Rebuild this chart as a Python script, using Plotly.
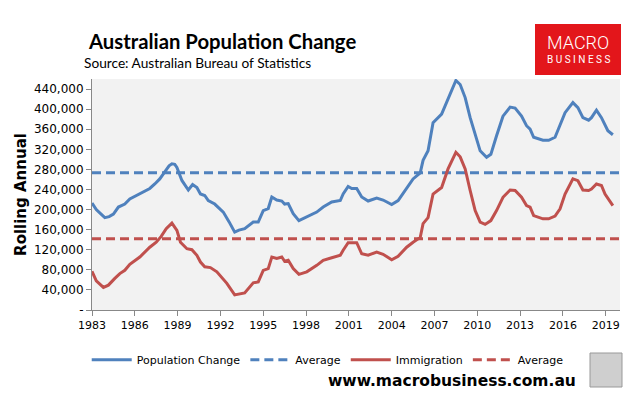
import plotly.graph_objects as go

# ---- data ----
pop_years = [1983.0, 1983.3, 1983.6, 1983.9, 1984.2, 1984.5, 1984.85, 1985.3, 1985.65, 1986.0,
             1986.35, 1987.05, 1987.4, 1987.75, 1988.1, 1988.4, 1988.6, 1988.8, 1988.95, 1989.3,
             1989.75, 1990.05, 1990.35, 1990.6, 1990.9, 1991.15, 1991.6, 1992.2, 1992.6, 1993.0,
             1993.3, 1993.7, 1994.3, 1994.65, 1995.0, 1995.35, 1995.6, 1995.95, 1996.3, 1996.5,
             1996.75, 1997.1, 1997.5, 1998.05, 1998.75, 1999.2, 1999.8, 2000.4, 2000.6, 2000.95,
             2001.2, 2001.55, 2001.9, 2002.35, 2002.95, 2003.4, 2004.0, 2004.45, 2005.05, 2005.5,
             2006.0, 2006.2, 2006.55, 2006.9, 2007.5, 2007.95, 2008.2, 2008.5, 2008.8, 2009.15,
             2009.5, 2009.85, 2010.2, 2010.65, 2010.95, 2011.35, 2011.8, 2012.3, 2012.65, 2013.1,
             2013.45, 2013.7, 2013.95, 2014.6, 2015.0, 2015.45, 2015.8, 2016.15, 2016.7, 2017.05,
             2017.4, 2017.8, 2018.0, 2018.35, 2018.7, 2019.15, 2019.5]
pop_change = [213000, 200000, 192000, 184000, 186000, 191000, 205000, 211000, 221000, 226000,
              232000, 242000, 251000, 261000, 275000, 287000, 291000, 290000, 284000, 258000,
              239000, 250000, 244000, 231000, 228000, 218000, 211000, 195000, 176000, 155000,
              159000, 162000, 175000, 175000, 198000, 202000, 225000, 219000, 217000, 211000,
              212000, 192000, 178000, 185000, 195000, 205000, 215000, 218000, 231000, 246000,
              242000, 242000, 225000, 217000, 223000, 219000, 210000, 218000, 243000, 261000,
              273000, 298000, 317000, 373000, 390000, 420000, 436000, 457000, 449000, 423000,
              383000, 350000, 317000, 304000, 310000, 347000, 386000, 404000, 402000, 386000,
              367000, 360000, 344000, 338000, 338000, 344000, 367000, 393000, 413000, 403000,
              383000, 378000, 383000, 398000, 383000, 357000, 349000]

imm_years = [1983.0, 1983.3, 1983.8, 1984.15, 1984.6, 1984.95, 1985.3, 1985.65, 1986.35, 1987.05,
             1987.5, 1987.85, 1988.2, 1988.6, 1988.95, 1989.2, 1989.65, 1990.0, 1990.35, 1990.6,
             1990.9, 1991.3, 1991.75, 1992.45, 1993.0, 1993.7, 1994.3, 1994.65, 1995.0, 1995.35,
             1995.6, 1995.95, 1996.3, 1996.5, 1996.75, 1997.1, 1997.5, 1998.05, 1998.75, 1999.2,
             1999.8, 2000.4, 2000.6, 2000.95, 2001.55, 2001.9, 2002.35, 2002.95, 2003.4, 2004.0,
             2004.45, 2005.05, 2005.5, 2006.0, 2006.2, 2006.55, 2006.9, 2007.5, 2007.95, 2008.5,
             2008.8, 2009.15, 2009.5, 2009.85, 2010.2, 2010.55, 2010.95, 2011.35, 2011.8, 2012.3,
             2012.65, 2013.1, 2013.45, 2013.7, 2013.95, 2014.6, 2015.0, 2015.45, 2015.8, 2016.15,
             2016.7, 2017.05, 2017.4, 2017.8, 2018.0, 2018.35, 2018.7, 2018.95, 2019.5]
immigration = [77000, 58000, 45000, 49500, 63000, 72500, 79000, 91000, 105500, 125000,
               135000, 146500, 162000, 173000, 158500, 135000, 122000, 120000, 109000, 95500,
               86000, 84500, 76000, 53000, 30000, 34000, 54000, 56000, 79000, 82500,
               105500, 102500, 105500, 97000, 99000, 82500, 71000, 76000, 89000, 99000,
               104000, 109000, 119000, 134000, 134000, 112000, 109000, 115500, 111000, 100000,
               107000, 125000, 135000, 144500, 172000, 184000, 231000, 244000, 281000, 314000,
               305000, 281000, 238000, 198000, 175000, 170500, 178000, 198000, 224500, 239000,
               238000, 224500, 208000, 205000, 188000, 181500, 181500, 187000, 201500, 231000,
               261000, 257500, 239000, 238000, 241000, 251000, 248000, 231000, 208000]

pop_average = 273500
imm_average = 142000

x_ticks = [1983, 1986, 1989, 1992, 1995, 1998, 2001, 2004, 2007, 2010, 2013, 2016, 2019]
y_ticks = [0, 40000, 80000, 120000, 160000, 200000, 240000, 280000, 320000, 360000, 400000, 440000]
y_tick_labels = ["-"] + [f"{v:,}" for v in y_ticks[1:]]

BLUE = "#4F81BD"
RED = "#C0504D"

fig = go.Figure()
fig.add_trace(go.Scatter(x=pop_years, y=pop_change, mode="lines", name="Population Change",
                         line=dict(color=BLUE, width=3)))
fig.add_trace(go.Scatter(x=[1983, 2020], y=[pop_average, pop_average], mode="lines", name="Average",
                         line=dict(color=BLUE, width=3, dash="9px,5px")))
fig.add_trace(go.Scatter(x=imm_years, y=immigration, mode="lines", name="Immigration",
                         line=dict(color=RED, width=3)))
fig.add_trace(go.Scatter(x=[1983, 2020], y=[imm_average, imm_average], mode="lines", name="Average",
                         line=dict(color=RED, width=3, dash="9px,5px")))

fig.update_layout(
    width=637, height=398,
    margin=dict(l=92, r=17, t=79, b=88),
    paper_bgcolor="white", plot_bgcolor="#F2F2F2",
    font=dict(family="DejaVu Sans", color="black"),
    showlegend=True,
    legend=dict(orientation="h", x=-0.01, xanchor="left", y=-0.215, yanchor="middle",
                font=dict(family="DejaVu Sans", size=11, color="black"),
                bgcolor="rgba(0,0,0,0)", itemwidth=40, tracegroupgap=0),
    xaxis=dict(range=[1983, 2020], tickvals=x_ticks, ticktext=[str(t) for t in x_ticks],
               showgrid=False, zeroline=False, showline=True, linecolor="#888888", linewidth=1,
               ticks="outside", ticklen=5, tickcolor="#888888",
               tickfont=dict(family="DejaVu Sans", size=11)),
    yaxis=dict(range=[0, 460000], tickvals=y_ticks, ticktext=y_tick_labels,
               showgrid=False, zeroline=False, showline=True, linecolor="#888888", linewidth=1,
               ticks="outside", ticklen=5, tickcolor="#888888",
               tickfont=dict(family="DejaVu Sans", size=12),
               title=dict(text="<b>Rolling Annual</b>", font=dict(family="DejaVu Sans", size=15),
                          standoff=3)),
)

# Title and subtitle
fig.add_annotation(text="<b>Australian Population Change</b>", xref="paper", yref="paper",
                   x=(86 - 92) / 528, y=1 + (79 - 41) / 231, xanchor="left", yanchor="middle",
                   showarrow=False, font=dict(family="Lato", size=20.3, color="black"))
fig.add_annotation(text="Source: Australian Bureau of Statistics", xref="paper", yref="paper",
                   x=(82 - 92) / 528, y=1 + (79 - 63) / 231, xanchor="left", yanchor="middle",
                   showarrow=False, font=dict(family="Lato", size=13.7, color="black"))

# Logo box
fig.add_shape(type="rect", xref="paper", yref="paper",
              x0=(535 - 92) / 528, x1=(621 - 92) / 528,
              y0=1 + (79 - 75) / 231, y1=1 + (79 - 24) / 231,
              fillcolor="#E3161B", line=dict(width=0), layer="above")
fig.add_annotation(text="MACRO", xref="paper", yref="paper",
                   x=(578 - 92) / 528, y=1 + (79 - 43) / 231, xanchor="center", yanchor="middle",
                   showarrow=False, font=dict(family="Roboto", size=18, color="white", weight=300))
fig.add_annotation(text="B U S I N E S S", xref="paper", yref="paper",
                   x=(578 - 92) / 528, y=1 + (79 - 59) / 231, xanchor="center", yanchor="middle",
                   showarrow=False, font=dict(family="Roboto", size=10, color="white"))

# Footer
fig.add_annotation(text="<b>www.macrobusiness.com.au</b>", xref="paper", yref="paper",
                   x=(452 - 92) / 528, y=-(381 - 310) / 231, xanchor="center", yanchor="middle",
                   showarrow=False, font=dict(family="DejaVu Sans", size=15.5, color="black"))

# Wolf icon placeholder box
fig.add_shape(type="rect", xref="paper", yref="paper",
              x0=(590 - 92) / 528, x1=(622 - 92) / 528,
              y0=-(387 - 310) / 231, y1=-(353 - 310) / 231,
              fillcolor="#CFCFCF", line=dict(color="#999999", width=1))

fig.write_html("out.html", config={"displayModeBar": False},
               post_script="document.body.style.margin='0';document.body.style.padding='0';")
